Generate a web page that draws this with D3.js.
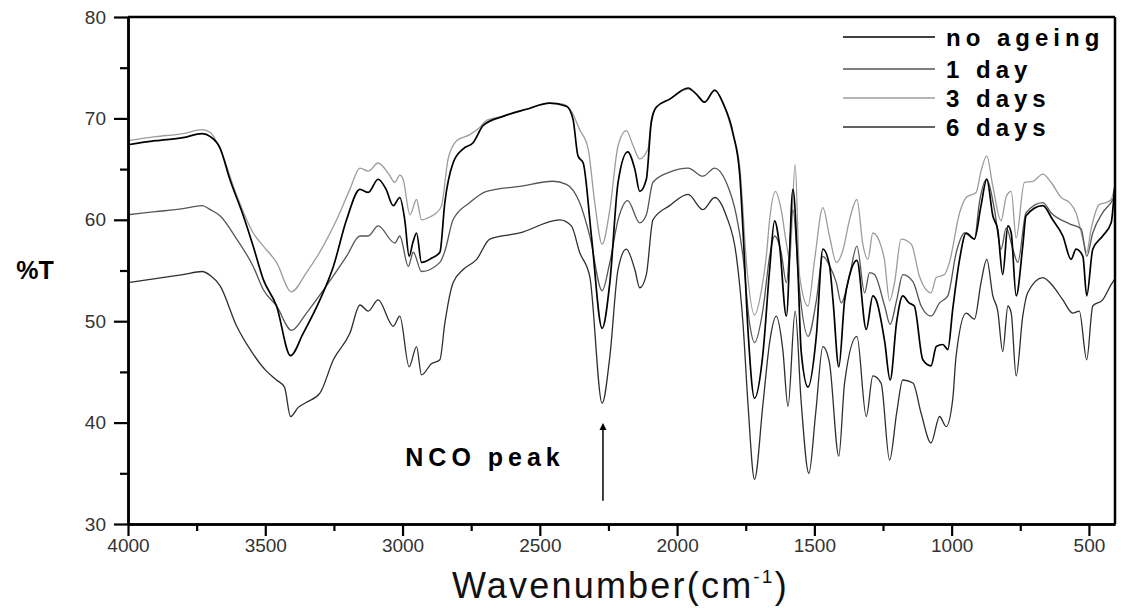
<!DOCTYPE html>
<html>
<head>
<meta charset="utf-8">
<script src="https://cdn.jsdelivr.net/npm/d3@7"></script>
<style>
  body { margin: 0; background: #fff; }
  svg { display: block; }
  .tick text { font-family: "Liberation Sans", Arial, sans-serif; }
</style>
</head>
<body>
<div id="chart"></div>
<script>
// series: [wavenumber (cm-1), %T]
const noAgeing = [[4000,67.4],[3900,67.8],[3800,68.1],[3730,68.5],[3700,68.2],[3665,67.1],[3629,64.0],[3580,60.4],[3544,57.4],[3507,54.1],[3459,51.5],[3408,46.6],[3362,48.8],[3301,52.1],[3252,55.4],[3204,60.0],[3155,63.0],[3125,62.7],[3089,64.0],[3060,63.0],[3034,61.4],[3010,62.2],[2992,60.0],[2976,56.4],[2962,57.8],[2949,58.7],[2931,55.8],[2895,56.2],[2864,56.8],[2846,61.7],[2816,65.6],[2779,67.0],[2743,67.6],[2706,69.3],[2634,70.2],[2549,70.9],[2464,71.5],[2403,71.2],[2379,69.9],[2361,66.3],[2342,65.6],[2312,58.4],[2273,49.3],[2245,53.8],[2215,63.7],[2180,66.7],[2154,65.0],[2136,62.8],[2112,64.0],[2094,69.6],[2076,71.1],[2027,71.9],[1960,73.0],[1930,72.4],[1900,71.6],[1863,72.8],[1833,71.5],[1796,68.5],[1772,64.5],[1760,59.0],[1742,49.2],[1718,42.4],[1687,46.9],[1663,55.1],[1645,59.9],[1627,57.5],[1602,50.5],[1578,63.0],[1560,55.0],[1548,47.0],[1523,43.5],[1493,48.5],[1469,57.1],[1445,55.5],[1432,52.0],[1411,45.5],[1390,52.0],[1372,54.5],[1345,56.0],[1311,49.2],[1287,52.5],[1275,52.1],[1244,48.0],[1224,44.2],[1200,50.0],[1178,52.5],[1155,51.8],[1136,51.5],[1105,46.2],[1075,45.6],[1056,47.5],[1032,47.7],[1014,47.2],[996,51.2],[971,56.1],[947,58.7],[917,58.1],[893,61.4],[872,64.0],[850,60.4],[832,59.0],[814,54.6],[795,59.4],[783,58.7],[765,52.5],[741,57.4],[729,60.4],[668,61.4],[632,60.0],[595,58.4],[565,56.1],[547,57.1],[522,56.4],[508,52.5],[486,57.1],[450,58.4],[419,59.7],[407,63.0]];

const oneDay = [[4000,60.5],[3900,60.8],[3800,61.1],[3730,61.4],[3700,61.0],[3665,60.4],[3604,58.1],[3544,55.4],[3507,53.1],[3459,51.5],[3404,49.1],[3350,50.8],[3277,53.5],[3204,56.4],[3155,58.4],[3125,58.4],[3089,59.4],[3028,57.7],[3010,58.4],[2979,55.4],[2961,56.8],[2931,54.9],[2864,55.8],[2846,56.9],[2816,60.0],[2755,61.7],[2694,62.8],[2573,63.3],[2452,63.8],[2403,63.5],[2355,61.7],[2318,58.4],[2273,53.0],[2245,55.8],[2215,60.0],[2180,61.9],[2136,59.7],[2112,60.5],[2088,63.7],[2027,64.7],[1960,65.1],[1906,64.3],[1863,65.1],[1821,63.7],[1784,60.4],[1760,56.4],[1736,49.8],[1718,47.9],[1687,51.2],[1663,56.4],[1645,58.4],[1621,56.8],[1602,53.8],[1578,61.0],[1554,53.0],[1523,48.5],[1493,52.0],[1469,56.4],[1445,55.5],[1420,53.8],[1402,51.8],[1372,54.5],[1345,57.4],[1317,52.8],[1299,54.8],[1281,54.6],[1244,51.5],[1224,49.7],[1200,52.1],[1178,54.6],[1141,53.9],[1111,51.5],[1075,50.5],[1044,51.8],[1014,52.5],[983,56.8],[953,58.7],[917,58.1],[899,61.7],[872,64.0],[844,61.0],[820,57.1],[801,59.2],[777,57.1],[759,55.8],[729,60.7],[668,61.7],[638,60.7],[571,59.6],[528,59.1],[508,56.4],[486,58.7],[450,60.7],[413,62.0],[405,62.5]];

const threeDays = [[4000,67.8],[3900,68.2],[3800,68.5],[3730,68.9],[3700,68.6],[3665,67.0],[3604,62.4],[3544,58.7],[3507,57.4],[3459,55.8],[3405,52.9],[3350,54.8],[3289,57.4],[3240,60.0],[3192,63.0],[3155,65.1],[3125,64.8],[3089,65.6],[3050,64.5],[3028,63.7],[3010,64.4],[2998,64.0],[2973,60.5],[2949,62.0],[2931,60.0],[2900,60.3],[2876,60.7],[2858,61.4],[2834,66.0],[2803,67.8],[2755,68.4],[2719,69.1],[2694,69.8],[2634,70.2],[2549,70.9],[2464,71.5],[2415,71.4],[2385,70.7],[2355,68.9],[2324,67.0],[2300,61.7],[2273,57.6],[2245,61.0],[2215,67.3],[2185,68.8],[2160,67.3],[2136,66.0],[2106,67.0],[2094,69.9],[2076,71.1],[2027,71.9],[1960,72.9],[1930,72.4],[1900,71.6],[1863,72.7],[1833,71.6],[1796,68.3],[1772,65.3],[1745,55.0],[1718,50.6],[1690,53.5],[1675,56.4],[1663,60.0],[1642,62.8],[1621,61.0],[1602,57.7],[1590,56.0],[1570,65.5],[1554,54.5],[1523,51.5],[1499,56.1],[1469,61.2],[1445,58.4],[1420,55.8],[1396,57.0],[1372,60.0],[1345,62.0],[1323,57.5],[1305,56.1],[1287,58.7],[1257,57.4],[1245,56.1],[1226,52.0],[1208,53.8],[1184,58.1],[1147,57.6],[1117,54.4],[1075,52.8],[1056,54.3],[1026,54.6],[1008,55.8],[971,60.7],[947,62.2],[911,62.7],[893,64.8],[872,66.3],[850,63.3],[820,59.9],[801,62.3],[783,62.8],[765,58.2],[735,63.7],[704,63.8],[668,64.5],[638,63.7],[601,62.2],[571,61.7],[547,60.7],[522,58.1],[508,56.8],[492,59.1],[462,61.5],[438,61.7],[419,62.0],[405,63.5]];

const sixDays = [[4000,53.8],[3900,54.2],[3800,54.6],[3730,54.9],[3700,54.5],[3665,53.5],[3604,49.5],[3550,47.0],[3500,45.2],[3459,44.2],[3430,43.5],[3408,40.6],[3380,41.5],[3350,42.0],[3301,42.9],[3252,46.2],[3192,48.8],[3155,51.6],[3125,51.0],[3089,52.1],[3034,49.5],[3010,50.5],[2976,45.5],[2949,47.5],[2931,44.7],[2895,45.8],[2864,46.2],[2846,49.8],[2816,53.8],[2779,55.1],[2730,56.1],[2682,58.1],[2573,58.7],[2427,60.0],[2385,59.4],[2355,56.8],[2318,54.4],[2273,41.9],[2245,46.5],[2215,55.1],[2185,57.1],[2154,55.1],[2136,53.3],[2112,54.6],[2088,60.0],[2027,61.4],[1960,62.5],[1906,61.0],[1863,62.2],[1821,60.4],[1784,56.4],[1760,49.8],[1742,41.9],[1718,34.4],[1687,41.9],[1663,47.9],[1639,50.5],[1615,47.2],[1596,41.6],[1570,51.0],[1548,42.0],[1520,35.0],[1495,41.0],[1469,47.5],[1445,45.9],[1411,36.7],[1390,43.9],[1345,48.5],[1311,40.6],[1287,44.6],[1257,43.9],[1226,36.3],[1200,41.0],[1178,44.2],[1141,43.9],[1111,40.9],[1075,38.0],[1044,40.6],[1020,39.6],[996,42.3],[984,46.5],[947,50.8],[917,50.2],[893,53.8],[872,56.1],[850,52.5],[832,51.0],[814,47.0],[795,51.5],[783,50.8],[765,44.6],[741,50.5],[723,52.8],[668,54.3],[632,53.5],[595,52.1],[559,50.8],[535,51.0],[508,46.2],[486,51.5],[450,52.1],[419,53.6],[405,54.2]];

const seriesNames = ["no ageing", "1 day", "3 days", "6 days"];
const seriesData = [noAgeing, oneDay, threeDays, sixDays];
const seriesColors = ["#000000", "#555555", "#9c9c9c", "#2e2e2e"];
const seriesWidths = [1.7, 1.3, 1.3, 1.3];

const xMajorTicks = [4000, 3500, 3000, 2500, 2000, 1500, 1000, 500];
const xMinorTicks = [3750, 3250, 2750, 2250, 1750, 1250, 750];
const yMajorTicks = [30, 40, 50, 60, 70, 80];
const yMinorTicks = [35, 45, 55, 65, 75];

const annotationLabel = "NCO peak";
const annotationWavenumber = 2270;

const width = 1121;
const height = 608;
const margin = { top: 17, right: 6, bottom: 84, left: 128 };
const plotW = width - margin.left - margin.right;
const plotH = height - margin.top - margin.bottom;

const svg = d3.select("#chart")
    .append("svg")
    .attr("width", width)
    .attr("height", height);

svg.append("rect")
    .attr("width", width)
    .attr("height", height)
    .attr("fill", "#fff");

const g = svg.append("g")
    .attr("transform", `translate(${margin.left}, ${margin.top})`);

const x = d3.scaleLinear()
    .domain([4000, 405])
    .range([0, plotW]);

const y = d3.scaleLinear()
    .domain([30, 80])
    .range([plotH, 0]);

const line = d3.line()
    .x(d => x(d[0]))
    .y(d => y(d[1]))
    .curve(d3.curveMonotoneX);

// draw lighter series first so the dark ones sit on top
const drawOrder = [2, 1, 3, 0];
drawOrder.forEach(i => {
    g.append("path")
        .datum(seriesData[i])
        .attr("fill", "none")
        .attr("stroke", seriesColors[i])
        .attr("stroke-width", seriesWidths[i])
        .attr("stroke-linejoin", "round")
        .attr("d", line);
});

// frame top + right
g.append("line")
    .attr("x1", 0).attr("x2", plotW)
    .attr("y1", 0).attr("y2", 0)
    .attr("stroke", "#000").attr("stroke-width", 2.5);
g.append("line")
    .attr("x1", plotW).attr("x2", plotW)
    .attr("y1", 0).attr("y2", plotH)
    .attr("stroke", "#000").attr("stroke-width", 2.5);

function styleAxis(sel) {
    sel.select(".domain").attr("stroke-width", 2.5);
    sel.selectAll(".tick line").attr("stroke-width", 2.2);
    sel.selectAll(".tick text")
        .attr("fill", "#333")
        .style("font-size", "19px");
}

// x axis
g.append("g")
    .attr("transform", `translate(0, ${plotH})`)
    .call(d3.axisBottom(x).tickValues(xMinorTicks).tickSize(7).tickSizeOuter(0).tickFormat(""))
    .call(styleAxis);
g.append("g")
    .attr("transform", `translate(0, ${plotH})`)
    .call(d3.axisBottom(x).tickValues(xMajorTicks).tickSize(12).tickSizeOuter(0).tickPadding(3).tickFormat(d3.format("d")))
    .call(styleAxis);

// y axis
g.append("g")
    .call(d3.axisLeft(y).tickValues(yMinorTicks).tickSize(8).tickSizeOuter(0).tickFormat(""))
    .call(styleAxis);
g.append("g")
    .call(d3.axisLeft(y).tickValues(yMajorTicks).tickSize(14).tickSizeOuter(0).tickPadding(8))
    .call(styleAxis);

// axis titles
svg.append("text")
    .attr("x", 35)
    .attr("y", margin.top + y(55))
    .attr("dy", "0.35em")
    .attr("text-anchor", "middle")
    .style("font-family", "Liberation Sans, Arial, sans-serif")
    .style("font-weight", "bold")
    .style("font-size", "25px")
    .text("%T");

const xTitle = svg.append("text")
    .attr("x", 452)
    .attr("y", 598)
    .style("font-family", "Liberation Sans, Arial, sans-serif")
    .style("font-size", "36px")
    .style("letter-spacing", "2.2px")
    .attr("fill", "#111");
xTitle.append("tspan").text("Wavenumber(cm");
xTitle.append("tspan").attr("dy", -15).style("font-size", "19px").text("-1");
xTitle.append("tspan").attr("dy", 15).text(")");

// legend
const legendX0 = 843 - margin.left;
const legendRows = [20, 52, 81, 110];
seriesNames.forEach((name, i) => {
    const row = g.append("g")
        .attr("transform", `translate(${legendX0}, ${legendRows[i]})`);
    row.append("line")
        .attr("x1", 0).attr("x2", 92)
        .attr("y1", 0).attr("y2", 0)
        .attr("stroke", seriesColors[i])
        .attr("stroke-width", 1.4);
    row.append("text")
        .attr("x", 103)
        .attr("y", 0)
        .attr("dy", "0.36em")
        .style("font-family", "Liberation Sans, Arial, sans-serif")
        .style("font-weight", "bold")
        .style("font-size", "24px")
        .style("letter-spacing", "5px")
        .text(name);
});

// NCO peak annotation
g.append("defs").append("marker")
    .attr("id", "arrowHead")
    .attr("viewBox", "0 0 10 10")
    .attr("refX", 5).attr("refY", 5)
    .attr("markerWidth", 5).attr("markerHeight", 5)
    .attr("orient", "auto")
    .append("path")
    .attr("d", "M0,0 L10,5 L0,10 Z")
    .attr("fill", "#000");

g.append("line")
    .attr("x1", x(annotationWavenumber)).attr("x2", x(annotationWavenumber))
    .attr("y1", y(32.3)).attr("y2", y(39.6))
    .attr("stroke", "#000")
    .attr("stroke-width", 1.5)
    .attr("marker-end", "url(#arrowHead)");

g.append("text")
    .attr("x", x(2990))
    .attr("y", y(35.7))
    .style("font-family", "Liberation Sans, Arial, sans-serif")
    .style("font-weight", "bold")
    .style("font-size", "25px")
    .style("letter-spacing", "5px")
    .text(annotationLabel);
</script>
</body>
</html>
